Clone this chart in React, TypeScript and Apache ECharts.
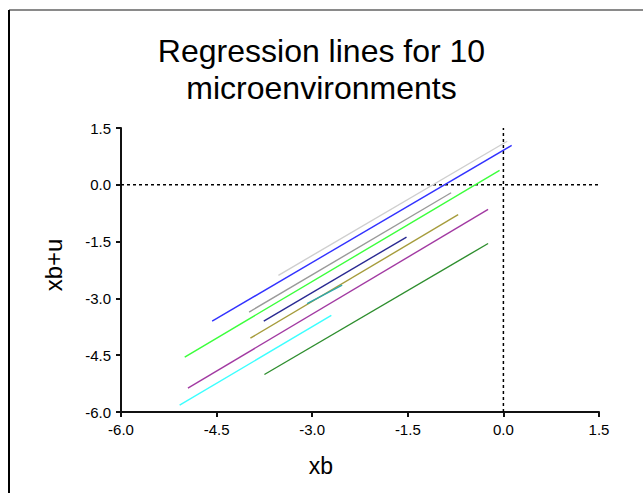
import React, { useEffect, useRef } from "react";
import * as echarts from "echarts";

const titleText = "Regression lines for 10\nmicroenvironments";
const xTitle = "xb";
const yTitle = "xb+u";

const xTicks = [-6.0, -4.5, -3.0, -1.5, 0.0, 1.5];
const yTicks = [-6.0, -4.5, -3.0, -1.5, 0.0, 1.5];

const envNames = ["E1", "E2", "E3", "E4", "E5", "E6", "E7", "E8", "E9", "E10"];
const envColors = [
  "#cfcfcf",
  "#3232ff",
  "#9a9a9a",
  "#3cff3c",
  "#2a2a92",
  "#a69c3c",
  "#a23aa2",
  "#3cffff",
  "#2e8e2e",
  "#2ea6aa",
];
const envStartX = [-3.53, -4.57, -3.99, -5.0, -3.76, -3.97, -4.95, -5.08, -3.75, -3.08];
const envStartY = [-2.39, -3.6, -3.36, -4.55, -3.6, -4.05, -5.37, -5.82, -5.01, -3.14];
const envEndX = [0.06, 0.13, -0.82, -0.06, -1.52, -0.71, -0.24, -2.7, -0.24, -2.53];
const envEndY = [1.15, 1.04, -0.21, 0.38, -1.38, -0.79, -0.65, -3.45, -1.55, -2.65];

const refZero = 0;

export default function App() {
  const ref = useRef<HTMLDivElement>(null);
  useEffect(() => {
    if (!ref.current) return;
    const chart = echarts.init(ref.current, null, { renderer: "svg" });
    const font = "'Liberation Sans', Arial, sans-serif";
    const xMin = xTicks[0];
    const xMax = xTicks[xTicks.length - 1];
    const yMin = yTicks[0];
    const yMax = yTicks[yTicks.length - 1];
    const series: any[] = envNames.map((n, i) => ({
      name: n,
      type: "line",
      showSymbol: false,
      data: [
        [envStartX[i], envStartY[i]],
        [envEndX[i], envEndY[i]],
      ],
      lineStyle: { color: envColors[i], width: 1.4 },
      z: 3,
    }));
    series.push({
      type: "line",
      showSymbol: false,
      data: [
        [refZero, yMin],
        [refZero, yMax],
      ],
      lineStyle: { color: "#000", width: 1.5, type: [3, 3] },
      z: 2,
    });
    series.push({
      type: "line",
      showSymbol: false,
      data: [
        [xMin, refZero],
        [xMax, refZero],
      ],
      lineStyle: { color: "#000", width: 1.5, type: [3, 3] },
      z: 2,
    });
    chart.setOption({
      animation: false,
      backgroundColor: "#fff",
      textStyle: { fontFamily: font },
      title: {
        text: titleText,
        left: "center",
        top: 27,
        textStyle: {
          fontFamily: font,
          fontSize: 32,
          fontWeight: "normal",
          color: "#000",
          lineHeight: 37,
        },
      },
      grid: { left: 121, right: 44, top: 128, bottom: 81 },
      xAxis: {
        type: "value",
        min: xMin,
        max: xMax,
        interval: 1.5,
        splitLine: { show: false },
        axisLine: { onZero: false, lineStyle: { color: "#111", width: 2 } },
        axisTick: { show: true, length: 5, lineStyle: { color: "#111", width: 2 } },
        axisLabel: {
          color: "#000",
          fontSize: 15,
          fontFamily: font,
          margin: 10,
          showMinLabel: true,
          showMaxLabel: true,
          formatter: (v: number) => v.toFixed(1),
        },
      },
      yAxis: {
        type: "value",
        min: yMin,
        max: yMax,
        interval: 1.5,
        splitLine: { show: false },
        axisLine: { show: true, onZero: false, lineStyle: { color: "#111", width: 2 } },
        axisTick: { show: true, length: 5, lineStyle: { color: "#111", width: 2 } },
        axisLabel: {
          color: "#000",
          fontSize: 15,
          fontFamily: font,
          margin: 10,
          showMinLabel: true,
          showMaxLabel: true,
          formatter: (v: number) => v.toFixed(1),
        },
      },
      graphic: [
        {
          type: "line",
          shape: { x1: 9, y1: 10, x2: 643, y2: 10 },
          style: { stroke: "#8a8a8a", lineWidth: 2 },
        },
        {
          type: "line",
          shape: { x1: 9, y1: 10, x2: 9, y2: 493 },
          style: { stroke: "#000", lineWidth: 2 },
        },
        {
          type: "text",
          x: 321,
          y: 466,
          style: {
            text: xTitle,
            fontSize: 23,
            fontFamily: font,
            fill: "#000",
            align: "center",
            verticalAlign: "middle",
          },
        },
        {
          type: "text",
          x: 53,
          y: 265,
          rotation: Math.PI / 2,
          style: {
            text: yTitle,
            fontSize: 24,
            fontFamily: font,
            fill: "#000",
            align: "center",
            verticalAlign: "middle",
          },
        },
      ],
      series,
    });
    return () => chart.dispose();
  }, []);
  return (
    <div
      ref={ref}
      style={{ position: "fixed", left: 0, top: 0, width: 643, height: 493 }}
    />
  );
}
